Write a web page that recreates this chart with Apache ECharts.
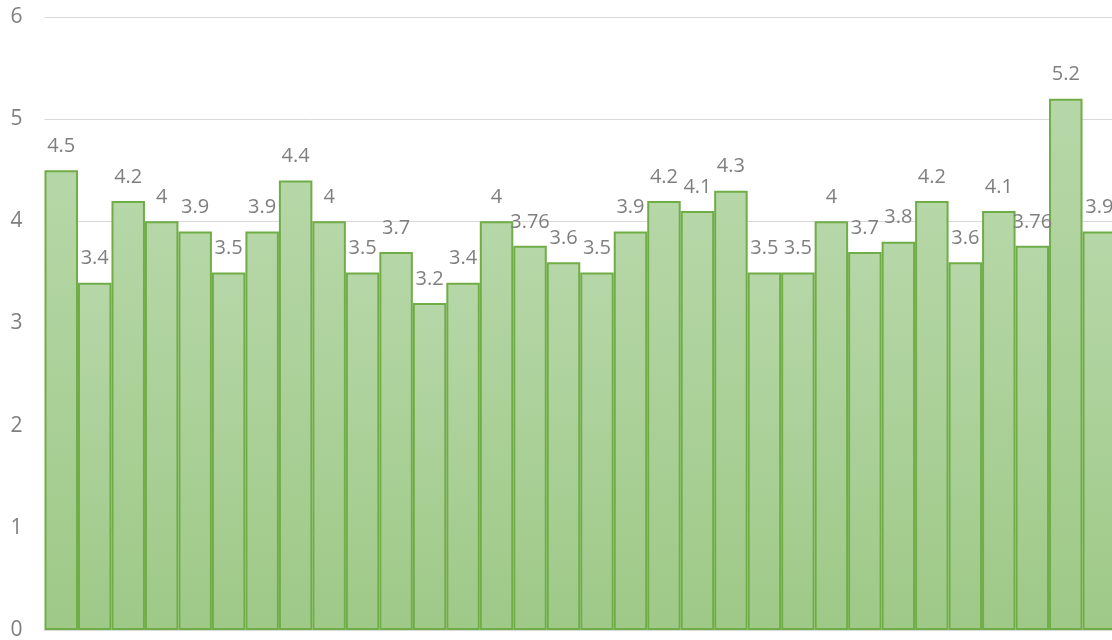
<!DOCTYPE html>
<html>
<head>
<meta charset="utf-8">
<script src="https://cdn.jsdelivr.net/npm/echarts@6/dist/echarts.min.js"></script>
<style>
  html, body { margin: 0; padding: 0; background: #fff; }
  #chart { width: 1112px; height: 640px; }
</style>
</head>
<body>
<div id="chart"></div>
<script>
const categories = ['1','2','3','4','5','6','7','8','9','10','11','12','13','14','15','16',
  '17','18','19','20','21','22','23','24','25','26','27','28','29','30','31','32']
const values = [4.5, 3.4, 4.2, 4, 3.9, 3.5, 3.9, 4.4, 4, 3.5, 3.7, 3.2, 3.4, 4, 3.76, 3.6,
  3.5, 3.9, 4.2, 4.1, 4.3, 3.5, 3.5, 4, 3.7, 3.8, 4.2, 3.6, 4.1, 3.76, 5.2, 3.9]
const yTicks = [0, 1, 2, 3, 4, 5, 6]

const chart = echarts.init(document.getElementById('chart'))

chart.setOption({
  animation: false,
  grid: { left: 44.5, top: 17, width: 1071.5, height: 613, outerBoundsMode: 'none', containLabel: false },
  xAxis: {
    type: 'category',
    data: categories,
    axisLine: { show: true, lineStyle: { color: '#d9d9d9' } },
    axisTick: { show: false },
    axisLabel: { show: false }
  },
  yAxis: {
    type: 'value',
    min: yTicks[0],
    max: yTicks[yTicks.length - 1],
    interval: 1,
    axisLine: { show: false },
    axisTick: { show: false },
    splitLine: { lineStyle: { color: '#d9d9d9', width: 1 } },
    axisLabel: { color: '#7f7f7f', fontSize: 21, fontFamily: 'Open Sans', margin: 22 }
  },
  series: [{
    type: 'bar',
    data: values,
    barCategoryGap: '0%',
    itemStyle: {
      color: new echarts.graphic.LinearGradient(0, 0, 0, 1, [
        { offset: 0, color: '#b6d7a8' },
        { offset: 1, color: '#9ec987' }
      ]),
      borderColor: '#70ad47',
      borderWidth: 2
    },
    label: {
      show: true,
      position: 'top',
      distance: 14,
      color: '#7f7f7f',
      fontSize: 20,
      fontFamily: 'Open Sans'
    }
  }]
})
</script>
</body>
</html>
